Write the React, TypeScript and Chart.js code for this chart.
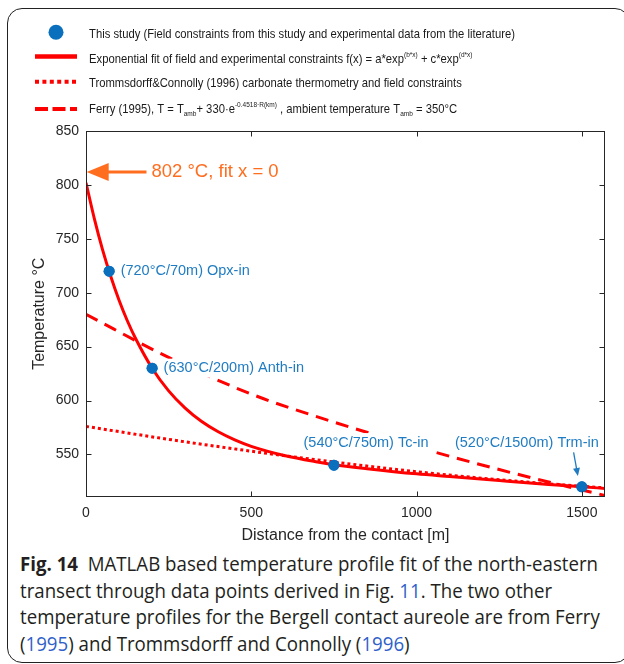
import React, { useEffect, useRef } from 'react';
import { Chart, registerables } from 'chart.js';

Chart.register(...registerables);

// ---------------- data ----------------
const fieldDistance = [70, 200, 750, 1500];
const fieldTemperature = [720, 630, 540, 520];
const fieldLabels = ['(720°C/70m) Opx-in', '(630°C/200m) Anth-in', '(540°C/750m) Tc-in', '(520°C/1500m) Trm-in'];
const labelAnchorDistance = [70, 200, 658, 1116];
const labelAnchorTemperature = [720, 630, 561, 561];

const fitDistance = [0, 25, 50, 75, 100, 125, 150, 200, 250, 300, 350, 400, 450, 500, 600, 700, 750, 850, 1000, 1100, 1250, 1400, 1500, 1570];
const fitTemperature = [802, 769, 740, 715, 693, 674, 657.5, 630, 609, 593, 580.5, 571, 563.5, 557.5, 549, 543, 540.5, 536.8, 532, 529.5, 525.8, 522.2, 520, 518.5];

const trommsDistance = [0, 250, 500, 750, 1000, 1250, 1500, 1570];
const trommsTemperature = [576, 564, 553, 543, 534, 526.5, 520.5, 519];

const ferryDistance = [0, 250, 500, 750, 1000, 1250, 1500, 1570];
const ferryTemperature = [680, 640, 606, 580, 557, 536, 517, 512];

const xTicks = [0, 500, 1000, 1500];
const yTicks = [550, 600, 650, 700, 750, 800, 850];

const fitStartNote = '802 °C, fit x = 0';
const fitStartArrowFrom = [183, 812];
const fitStartArrowTo = [2, 812];
const fitStartNoteAt = [198, 812];
const trmArrowFrom = [1475, 552];
const trmArrowTo = [1488, 530];

type Seg = { t: string; k?: 'sup' | 'sub' };
const legendRows: Seg[][] = [
  [{ t: 'This study (Field constraints from this study and experimental data from the literature)' }],
  [{ t: 'Exponential fit of field and experimental constraints f(x) = a*exp' }, { t: '(b*x)', k: 'sup' }, { t: ' + c*exp' }, { t: '(d*x)', k: 'sup' }],
  [{ t: 'Trommsdorff&Connolly (1996) carbonate thermometry and field constraints' }],
  [{ t: 'Ferry (1995), T = T' }, { t: 'amb', k: 'sub' }, { t: '+ 330·e' }, { t: '-0.4518·R(km)', k: 'sup' }, { t: ' , ambient temperature T' }, { t: 'amb', k: 'sub' }, { t: ' = 350°C' }],
];

// ---------------- styles ----------------
const RED = '#ff0000';
const BLUE = '#0a6fbd';
const LABEL_BLUE = '#1f7cc2';
const ORANGE = '#ff6d1f';
const AXIS = '#262626';
const FONT = '"Liberation Sans", Arial, Helvetica, sans-serif';

const toXY = (xs: number[], ys: number[]) => xs.map((x, i) => ({ x, y: ys[i] }));

function drawArrow(ctx: CanvasRenderingContext2D, x0: number, y0: number, x1: number, y1: number, color: string, lw: number, headLen: number, headHalf: number) {
  const ang = Math.atan2(y1 - y0, x1 - x0);
  const bx = x1 - Math.cos(ang) * headLen;
  const by = y1 - Math.sin(ang) * headLen;
  ctx.save();
  ctx.strokeStyle = color;
  ctx.fillStyle = color;
  ctx.lineWidth = lw;
  ctx.setLineDash([]);
  ctx.beginPath();
  ctx.moveTo(x0, y0);
  ctx.lineTo(bx + Math.cos(ang) * 2, by + Math.sin(ang) * 2);
  ctx.stroke();
  ctx.beginPath();
  ctx.moveTo(x1, y1);
  ctx.lineTo(bx - Math.sin(ang) * headHalf, by + Math.cos(ang) * headHalf);
  ctx.lineTo(bx + Math.sin(ang) * headHalf, by - Math.cos(ang) * headHalf);
  ctx.closePath();
  ctx.fill();
  ctx.restore();
}

function drawRich(ctx: CanvasRenderingContext2D, segs: Seg[], x: number, baseline: number, size: number) {
  let cx = x;
  for (const s of segs) {
    const fs = s.k ? size * 0.58 : size;
    ctx.font = `${fs}px ${FONT}`;
    const dy = s.k === 'sup' ? -size * 0.4 : s.k === 'sub' ? size * 0.3 : 0;
    ctx.fillText(s.t, cx, baseline + dy);
    cx += ctx.measureText(s.t).width;
  }
}

const overlay = {
  id: 'overlay',
  beforeDatasetsDraw(chart: any) {
    // nothing
  },
  afterDatasetsDraw(chart: any) {
    const { ctx, chartArea: a, scales } = chart;
    const x = scales.x;
    const y = scales.y;
    ctx.save();

    // point labels with white boxes (they mask the lines behind them)
    ctx.font = `14.5px ${FONT}`;
    ctx.textBaseline = 'middle';
    ctx.textAlign = 'left';
    fieldLabels.forEach((lab, i) => {
      const isPointSide = labelAnchorDistance[i] === fieldDistance[i];
      const px = x.getPixelForValue(labelAnchorDistance[i]) + (isPointSide ? 11.5 : 0);
      const py = y.getPixelForValue(labelAnchorTemperature[i]);
      const w = ctx.measureText(lab).width;
      ctx.fillStyle = '#ffffff';
      ctx.fillRect(px - 2, py - 9.5, w + 4, 19);
      ctx.fillStyle = LABEL_BLUE;
      ctx.fillText(lab, px, py);
    });

    // re-draw points on top of label boxes
    const meta = chart.getDatasetMeta(0);
    ctx.fillStyle = BLUE;
    meta.data.forEach((el: any) => {
      ctx.beginPath();
      ctx.arc(el.x, el.y, 5.5, 0, Math.PI * 2);
      ctx.fill();
    });

    // box with inward ticks
    ctx.strokeStyle = AXIS;
    ctx.lineWidth = 1;
    ctx.setLineDash([]);
    const L = Math.round(a.left) + 0.5;
    const R = Math.round(a.right) - 0.5;
    const T = Math.round(a.top) + 0.5;
    const B = Math.round(a.bottom) - 0.5;
    ctx.strokeRect(L, T, R - L, B - T);
    ctx.beginPath();
    for (const v of xTicks) {
      const px = Math.round(x.getPixelForValue(v)) + 0.5;
      ctx.moveTo(px, B); ctx.lineTo(px, B - 5);
      ctx.moveTo(px, T); ctx.lineTo(px, T + 5);
    }
    for (const v of yTicks) {
      const py = Math.round(y.getPixelForValue(v)) + 0.5;
      ctx.moveTo(L, py); ctx.lineTo(L + 5, py);
      ctx.moveTo(R, py); ctx.lineTo(R - 5, py);
    }
    ctx.stroke();

    // Trm-in arrow
    drawArrow(ctx, x.getPixelForValue(trmArrowFrom[0]), y.getPixelForValue(trmArrowFrom[1]),
      x.getPixelForValue(trmArrowTo[0]), y.getPixelForValue(trmArrowTo[1]), LABEL_BLUE, 1.3, 8, 3.5);

    // orange arrow + note
    drawArrow(ctx, x.getPixelForValue(fitStartArrowFrom[0]), y.getPixelForValue(fitStartArrowFrom[1]),
      x.getPixelForValue(fitStartArrowTo[0]), y.getPixelForValue(fitStartArrowTo[1]), ORANGE, 3, 22, 9);
    ctx.fillStyle = ORANGE;
    ctx.font = `18.5px ${FONT}`;
    ctx.textBaseline = 'middle';
    ctx.fillText(fitStartNote, x.getPixelForValue(fitStartNoteAt[0]), y.getPixelForValue(fitStartNoteAt[1]));
    ctx.restore();
  },
  afterDraw(chart: any) {
    const { ctx } = chart;
    ctx.save();
    // legend symbols
    ctx.fillStyle = BLUE;
    ctx.beginPath();
    ctx.arc(56, 32.3, 7.5, 0, Math.PI * 2);
    ctx.fill();
    ctx.strokeStyle = RED;
    ctx.lineWidth = 4.5;
    ctx.setLineDash([]);
    ctx.beginPath(); ctx.moveTo(35, 56.5); ctx.lineTo(77, 56.5); ctx.stroke();
    ctx.lineWidth = 4;
    ctx.setLineDash([4, 3.4]);
    ctx.beginPath(); ctx.moveTo(35, 81.7); ctx.lineTo(77, 81.7); ctx.stroke();
    ctx.setLineDash([13, 4.5]);
    ctx.beginPath(); ctx.moveTo(35, 109); ctx.lineTo(77, 109); ctx.stroke();
    ctx.setLineDash([]);

    // legend text (condensed)
    const size = 12.8;
    ctx.font = `${size}px ${FONT}`;
    const natural = ctx.measureText(legendRows[0][0].t).width;
    const k = 426 / natural;
    ctx.fillStyle = '#1a1a1a';
    ctx.textBaseline = 'alphabetic';
    ctx.textAlign = 'left';
    const baselines = [37.5, 62.5, 86.5, 112.5];
    legendRows.forEach((row, i) => {
      ctx.save();
      ctx.translate(89, 0);
      ctx.scale(k, 1);
      drawRich(ctx, row, 0, baselines[i], size);
      ctx.restore();
    });
    ctx.restore();
  },
};

const captionLines = [
  [{ b: 'Fig. 14' }, { t: '\u00a0\u00a0MATLAB based temperature profile fit of the north-eastern' }],
  [{ t: 'transect through data points derived in Fig. ' }, { l: '11' }, { t: '. The two other' }],
  [{ t: 'temperature profiles for the Bergell contact aureole are from Ferry' }],
  [{ t: '(' }, { l: '1995' }, { t: ') and Trommsdorff and Connolly (' }, { l: '1996' }, { t: ')' }],
];

export default function App() {
  const canvasRef = useRef<HTMLCanvasElement | null>(null);
  const capRef = useRef<HTMLDivElement | null>(null);
  const line1Ref = useRef<HTMLSpanElement | null>(null);

  useEffect(() => {
    const canvas = canvasRef.current;
    if (!canvas) return;
    Chart.defaults.font.family = FONT;
    const chart = new Chart(canvas, {
      type: 'scatter',
      data: {
        datasets: [
          {
            label: 'This study', data: toXY(fieldDistance, fieldTemperature), showLine: false,
            pointRadius: 5.5, pointHoverRadius: 5.5, backgroundColor: BLUE, borderWidth: 0, clip: false,
          } as any,
          {
            label: 'Ferry', data: toXY(ferryDistance, ferryTemperature), showLine: true, pointRadius: 0,
            borderColor: RED, borderWidth: 3, borderDash: [13, 8], cubicInterpolationMode: 'monotone', fill: false,
          },
          {
            label: 'Trommsdorff', data: toXY(trommsDistance, trommsTemperature), showLine: true, pointRadius: 0,
            borderColor: RED, borderWidth: 3, borderDash: [3, 3], cubicInterpolationMode: 'monotone', fill: false,
          },
          {
            label: 'Fit', data: toXY(fitDistance, fitTemperature), showLine: true, pointRadius: 0,
            borderColor: RED, borderWidth: 3, cubicInterpolationMode: 'monotone', fill: false,
          },
        ],
      },
      options: {
        animation: false,
        responsive: false,
        devicePixelRatio: 1,
        layout: { padding: { left: 0, right: 19, top: 131, bottom: 0 } },
        plugins: { legend: { display: false }, tooltip: { enabled: false } },
        scales: {
          x: {
            type: 'linear', min: 0, max: 1570,
            afterBuildTicks: (s: any) => { s.ticks = xTicks.map((v) => ({ value: v })); },
            afterFit: (s: any) => { s.height = 48.5; },
            grid: { display: false, drawTicks: false },
            border: { display: false },
            ticks: { padding: 8, color: AXIS, font: { size: 14 }, callback: (v: any) => String(v) },
            title: { display: true, text: 'Distance from the contact [m]', color: AXIS, font: { size: 16 }, padding: { top: 2.4, bottom: 0 } },
          },
          y: {
            type: 'linear', min: 511, max: 850,
            afterBuildTicks: (s: any) => { s.ticks = yTicks.map((v) => ({ value: v })); },
            afterFit: (s: any) => { s.width = 86; },
            grid: { display: false, drawTicks: false },
            border: { display: false },
            ticks: { padding: 7, color: AXIS, font: { size: 14 }, callback: (v: any) => String(v) },
            title: { display: true, text: 'Temperature °C', color: AXIS, font: { size: 16 }, padding: { top: 30, bottom: 0 } },
          },
        },
      },
      plugins: [overlay],
    });

    if (capRef.current && line1Ref.current) {
      const w = line1Ref.current.getBoundingClientRect().width;
      if (w > 0) capRef.current.style.transform = `scaleX(${578 / w})`;
    }
    return () => chart.destroy();
  }, []);

  return (
    <div style={{ position: 'absolute', left: 0, top: 0, width: 624, height: 664, overflow: 'hidden', background: '#fff' }}>
      <div style={{
        position: 'absolute', left: 7, top: 8, width: 630 - 7, height: 663 - 8, boxSizing: 'border-box',
        border: '1.3px solid #222', borderRadius: 15,
      }} />
      <canvas ref={canvasRef} width={624} height={545} style={{ position: 'absolute', left: 0, top: 0, width: 624, height: 545 }} />
      <div style={{
        position: 'absolute', left: 20, top: 551, fontFamily: '"Open Sans", "Noto Sans", sans-serif',
        fontSize: 20, lineHeight: '26.7px', color: '#231f20', whiteSpace: 'nowrap',
      }}>
        <div ref={capRef} style={{ transformOrigin: '0 0', display: 'inline-block' }}>
          {captionLines.map((line, i) => (
            <div key={i}>
              <span ref={i === 0 ? line1Ref : undefined}>
                {line.map((s: any, j) =>
                  s.b ? <b key={j}>{s.b}</b> : s.l ? <span key={j} style={{ color: '#2f5fc9' }}>{s.l}</span> : <span key={j}>{s.t}</span>
                )}
              </span>
            </div>
          ))}
        </div>
      </div>
    </div>
  );
}
